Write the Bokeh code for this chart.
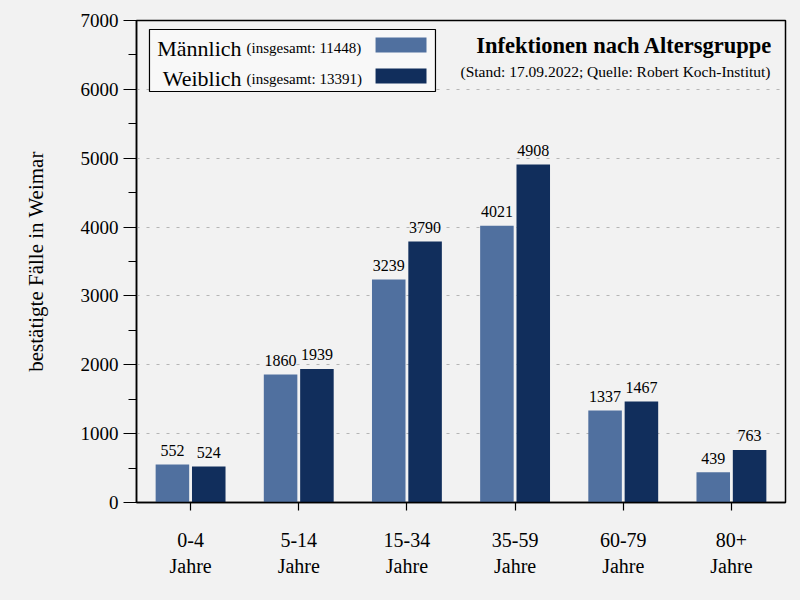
from bokeh.plotting import figure
from bokeh.models import (ColumnDataSource, FactorRange, Range1d, SingleIntervalTicker,
                          Label, BoxAnnotation)
from bokeh.transform import dodge
from bokeh.core.properties import value
from bokeh.embed import file_html
from bokeh.resources import INLINE

# ---- data ----
groups = ["0-4\nJahre", "5-14\nJahre", "15-34\nJahre", "35-59\nJahre", "60-79\nJahre", "80+\nJahre"]
male = [552, 1860, 3239, 4021, 1337, 439]
female = [524, 1939, 3790, 4908, 1467, 763]
male_total = 11448
female_total = 13391
title_text = "Infektionen nach Altersgruppe"
subtitle_text = "(Stand: 17.09.2022; Quelle: Robert Koch-Institut)"
y_label = "bestätigte Fälle in Weimar"

FONT = "Liberation Serif"
C_M = "#50709f"
C_F = "#112e5c"
BG = "#f2f2f2"

src = ColumnDataSource(dict(g=groups, m=male, f=female,
                            ml=[str(v) for v in male], fl=[str(v) for v in female]))

p = figure(width=800, height=600, x_range=FactorRange(*groups, range_padding=0),
           y_range=Range1d(0, 7000), output_backend="svg", toolbar_location=None,
           min_border_left=136, min_border_right=15, min_border_top=20, min_border_bottom=98)
p.background_fill_color = BG
p.border_fill_color = BG
p.outline_line_color = "black"
p.outline_line_width = 1.5

p.vbar(x=dodge("g", -0.168, range=p.x_range), top="m", width=0.31, source=src,
       fill_color=C_M, line_color=None)
p.vbar(x=dodge("g", 0.168, range=p.x_range), top="f", width=0.31, source=src,
       fill_color=C_F, line_color=None)

p.text(x=dodge("g", -0.168, range=p.x_range), y="m", text="ml", source=src,
       text_align="center", text_baseline="alphabetic", y_offset=-14,
       text_font=value(FONT), text_font_size="16px", text_color="black")
p.text(x=dodge("g", 0.168, range=p.x_range), y="f", text="fl", source=src,
       text_align="center", text_baseline="alphabetic", y_offset=-14,
       text_font=value(FONT), text_font_size="16px", text_color="black")

# axes
p.yaxis.ticker = SingleIntervalTicker(interval=1000, num_minor_ticks=2)
for ax in (p.xaxis[0], p.yaxis[0]):
    ax.axis_line_color = "black"
    ax.axis_line_width = 1.5
    ax.major_tick_line_color = "black"
    ax.major_tick_line_width = 1.2
    ax.minor_tick_line_color = "black"
    ax.minor_tick_line_width = 1.2
    ax.major_label_text_font = FONT
    ax.major_label_text_color = "black"
    ax.major_tick_in = 0
    ax.minor_tick_in = 0

p.yaxis.major_label_text_font_size = "19px"
p.xaxis.major_label_text_font_size = "20px"
p.yaxis.major_tick_out = 13
p.yaxis.minor_tick_out = 8
p.yaxis.major_label_standoff = 5
p.yaxis.axis_label = y_label
p.yaxis.axis_label_text_font = FONT
p.yaxis.axis_label_text_font_size = "21px"
p.yaxis.axis_label_text_font_style = "normal"
p.yaxis.axis_label_text_color = "black"
p.yaxis.axis_label_standoff = 30

p.xaxis.major_tick_out = 8
p.xaxis.major_label_standoff = 18
p.xaxis.minor_tick_out = 0

p.xgrid.grid_line_color = None
p.ygrid.grid_line_color = "#b5b5b5"
p.ygrid.grid_line_dash = "3 7"
p.ygrid.grid_line_width = 1

# legend (drawn manually: labels left, swatches right)
p.add_layout(BoxAnnotation(left=0.120, right=2.764, bottom=5969, top=6869,
                           fill_color="#f8f8f8", fill_alpha=1.0,
                           line_color="black", line_width=1.2, line_alpha=1.0))
p.add_layout(BoxAnnotation(left=2.210, right=2.681, bottom=6535, top=6753,
                           fill_color=C_M, fill_alpha=1.0, line_color=None))
p.add_layout(BoxAnnotation(left=2.210, right=2.681, bottom=6085, top=6303,
                           fill_color=C_F, fill_alpha=1.0, line_color=None))
for name, tot, yb in (("Männlich", male_total, 6594), ("Weiblich", female_total, 6154)):
    p.add_layout(Label(x=0.971, y=yb, text=name, text_align="right",
                       text_baseline="alphabetic", text_font=FONT,
                       text_font_size="22px", text_color="black"))
    p.add_layout(Label(x=1.017, y=yb, text=f"(insgesamt: {tot})", text_align="left",
                       text_baseline="alphabetic", text_font=FONT,
                       text_font_size="15px", text_color="black"))

p.add_layout(Label(x=5.880, y=6637, text=title_text, text_align="right",
                   text_baseline="alphabetic", text_font=FONT, text_font_style="bold",
                   text_font_size="22.5px", text_color="black"))
p.add_layout(Label(x=5.861, y=6260, text=subtitle_text, text_align="right",
                   text_baseline="alphabetic", text_font=FONT,
                   text_font_size="15.5px", text_color="black"))

html = file_html(p, INLINE)
html = html.replace("<head>", "<head><style>html,body{background:#f2f2f2;}</style>", 1)
open("out.html", "w").write(html)
